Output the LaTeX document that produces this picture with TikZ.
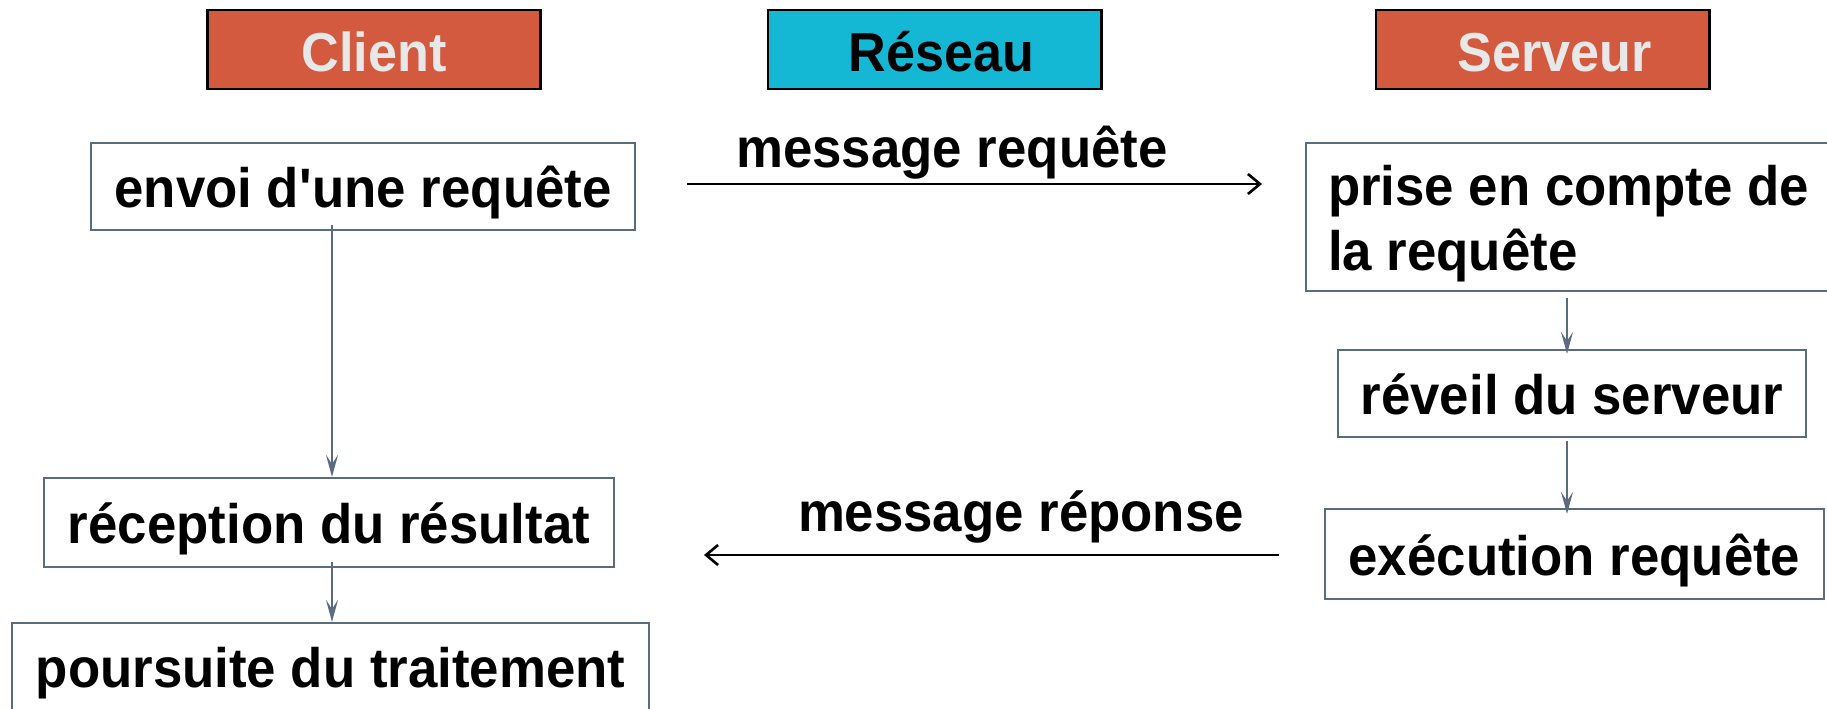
\documentclass[tikz,border=0pt]{standalone}
\usepackage{fontspec}
\setmainfont{Liberation Sans}[FakeStretch=0.95]
\usepackage{tikz}
\usetikzlibrary{arrows.meta, positioning}
\definecolor{headred}{HTML}{D45A3F}
\definecolor{headcyan}{HTML}{14B8D4}
\definecolor{headtext}{HTML}{E8E8E8}
\definecolor{boxline}{HTML}{5B6B82}
\tikzset{%
	head/.style={
		draw=black,
		line width=0.8pt,
		minimum width=3.33cm,
		minimum height=0.79cm,
		inner sep=0pt,
		text height=0.43cm,
		text depth=0cm,
		font=\fontsize{15.6}{18}\selectfont\bfseries
	},
	stage/.style={
		draw=boxline,
		line width=0.6pt,
		inner sep=0pt,
		text height=0.42cm,
		text depth=0cm,
		font=\fontsize{15.8}{19}\selectfont\bfseries
	},
	flow/.style={
		draw=boxline,
		line width=0.7pt,
		-{Stealth[length=0.22cm,width=0.12cm,inset=0.09cm]}
	},
	msg/.style={
		draw=black,
		line width=0.75pt,
		-{Straight Barb[length=0.12cm,width=0.2cm]}
	},
	msglabel/.style={
		font=\fontsize{15.8}{19}\selectfont\bfseries
	},
}
\begin{document}
\begin{tikzpicture}[x=0.01cm, y=-0.01cm]
	\useasboundingbox (0,0) rectangle (1827,709);
	
	% Draw the three column headers
	\node[head, fill=headred, text=headtext] (client) at (374,49.5) {Client\hspace{0.26cm}};
	\node[head, fill=headcyan, text=black] (reseau) at (934.5,49.5) {\hspace{0.14cm}Réseau};
	\node[head, fill=headred, text=headtext] (serveur) at (1542.5,49.5) {\hspace{0.24cm}Serveur};
	
	% Client side
	\node[stage, minimum width=5.44cm, minimum height=0.87cm] (envoi) at (363,186.5) {envoi d\textquotesingle une requête};
	\node[stage, minimum width=5.70cm, minimum height=0.89cm] (reception) at (329,522.5) {réception du résultat};
	\node[stage, minimum width=6.37cm, minimum height=0.97cm, text height=0.31cm] (poursuite) at (330.5,671.5) {poursuite du traitement};
	
	% Server side
	\node[stage, anchor=west, inner xsep=0.22cm, minimum height=1.48cm, text height=, text depth=, text width=5.0cm, align=flush left, font=\fontsize{15.8}{18.4}\selectfont\bfseries] (prise) at (1305,217) {\rule{0pt}{0.53cm}prise en compte de\\la requête};
	\node[stage, minimum width=4.68cm, minimum height=0.87cm] (reveil) at (1572,393.5) {réveil du serveur};
	\node[stage, minimum width=4.99cm, minimum height=0.90cm] (execution) at (1574.5,554) {exécution requête};
	
	% Arrows inside each column
	\draw[flow] ([xshift=0.03cm]envoi.south -| reception.north) ++(0,-6) -- ([xshift=0.03cm]reception.north);
	\draw[flow] ([xshift=0.03cm]reception.south) ++(0,-6) -- ([xshift=0.03cm]reception.south |- poursuite.north);
	\draw[flow] ([xshift=-0.05cm]prise.south -| reveil.north) ++(0,6) -- ([xshift=-0.05cm,yshift=-0.05cm]reveil.north);
	\draw[flow] ([xshift=-0.05cm]reveil.south) ++(0,3) -- ([xshift=-0.05cm,yshift=-0.06cm]reveil.south |- execution.north);
	
	% Messages over the network
	\coordinate (reqstart) at (687,184);
	\coordinate (reqend) at (1262,184);
	\coordinate (repstart) at (1279,555);
	\coordinate (repend) at (704,555);
	\draw[msg] (reqstart) -- (reqend);
	\draw[msg] (repstart) -- (repend);
	\node[msglabel] (reqlabel) at (952,153) {message requête};
	\node[msglabel] (replabel) at (1021,517) {message réponse};
	
\end{tikzpicture}
\end{document}
